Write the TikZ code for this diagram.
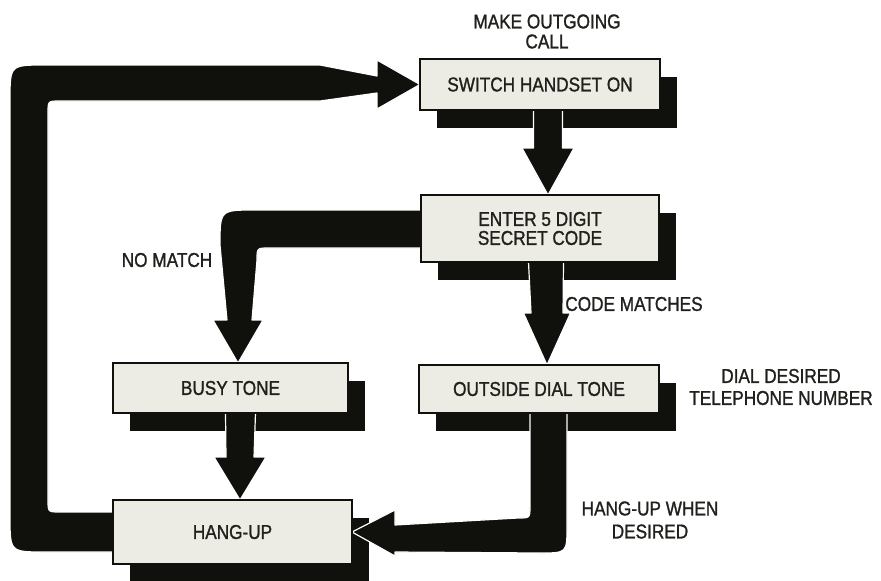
\documentclass[tikz,border=0pt]{standalone}
\usepackage{fontspec}
\setmainfont{Liberation Sans}[FakeStretch=0.86,FakeBold=1.2]
\usetikzlibrary{calc}
\pgfdeclarelayer{shadowlayer}
\pgfdeclarelayer{arrowlayer}
\pgfsetlayers{shadowlayer,arrowlayer,main}
\definecolor{boxfill}{RGB}{236,236,228}
\definecolor{ink}{RGB}{16,16,12}
\definecolor{txt}{RGB}{32,32,28}
\newcommand\fbxfont{\fontsize{20}{19}\selectfont}
\newcommand\flblfont{\fontsize{20}{22}\selectfont}
\newcommand\flowarrow[6]{%
  \fill[arr] ($(#1)+(-#3,0)$) -- ($(#2)+(-#4,-#6)$) -- ($(#2)+(-#5,-#6)$) -- (#2)
    -- ($(#2)+(#5,-#6)$) -- ($(#2)+(#4,-#6)$) -- ($(#1)+(#3,0)$) -- cycle;}
\begin{document}
\begin{tikzpicture}[x=1pt,y=-1pt,
  flowbox/.style={draw=ink, line width=1.3pt, fill=boxfill, inner sep=0pt, outer sep=0pt,
    align=center, text=txt, font=\fbxfont},
  lbl/.style={inner sep=0pt, align=center, text=txt, font=\flblfont},
  arr/.style={fill=ink, draw=white, line width=1.2pt, line join=round},
  shadowbox/.style={fill=ink}]
\useasboundingbox (0,0) rectangle (881,581);

% boxes
\node[flowbox, minimum width=240pt, minimum height=51pt] (sw) at (540,84.5) {SWITCH HANDSET ON};
\node[flowbox, minimum width=238pt, minimum height=67pt] (en) at (540,228.5) {ENTER 5 DIGIT\\SECRET CODE};
\node[flowbox, minimum width=240pt, minimum height=48pt] (od) at (539,389) {OUTSIDE DIAL TONE};
\node[flowbox, minimum width=235pt, minimum height=50pt] (bt) at (230.5,388) {BUSY TONE};
\node[flowbox, minimum width=239pt, minimum height=64pt] (hu) at (232.5,532) {HANG-UP};

% labels
\node[lbl, font={\fontsize{20}{20}\selectfont}] (mk) at (547,31.5) {MAKE OUTGOING\\CALL};
\node[lbl] (nm) at (167,260) {NO MATCH};
\node[lbl] (cm) at (634,304) {CODE MATCHES};
\node[lbl] (dd) at (781,387) {DIAL DESIRED\\TELEPHONE NUMBER};
\node[lbl, font={\fontsize{20}{23}\selectfont}] (hw) at (650,520) {HANG-UP WHEN\\DESIRED};

% shadows
\begin{pgfonlayer}{shadowlayer}
\foreach \n in {sw,en,od,bt,hu}
  \fill[shadowbox] ($(\n.north west)+(17,18)$) rectangle ($(\n.south east)+(17,18)$);
\end{pgfonlayer}

% connectors
\begin{pgfonlayer}{arrowlayer}
\coordinate (a1s) at ($(sw.south)+(8,0)$);
\coordinate (a1t) at ($(en.north)+(8,0)$);
\flowarrow{a1s}{a1t}{14.5}{14.5}{26}{47}
\coordinate (a2s) at ($(en.south)+(6,0)$);
\coordinate (a2t) at ($(od.north)+(8,0)$);
\flowarrow{a2s}{a2t}{17.5}{16}{23.5}{52}
\coordinate (a3s) at ($(bt.south)+(10,0)$);
\coordinate (a3t) at ($(hu.north)+(7.5,0)$);
\flowarrow{a3s}{a3t}{15}{14}{26}{43}
% no match
\coordinate (nmt) at ($(bt.north)+(7.5,0)$);
\fill[arr] ($(en.west)+(0,-18.5)$) -- (255,210) .. controls (220,210) .. (220,245)
  -- (227,320) -- (213,320) -- (nmt) -- (263,320) -- (252,320)
  -- (257,260) .. controls (257,248) .. (269,248) -- ($(en.west)+(0,19.5)$) -- cycle;
% big loop back to start
\fill[arr] ($(hu.west)+(0,-20)$) -- (60,512) .. controls (48,512) .. (48,500)
  -- (48,113) .. controls (48,101) .. (60,101) -- (320,101) -- (377,93) -- (377,109)
  -- (sw.west) -- (377,60) -- (377,76) -- (320,65) -- (45,65) .. controls (10,65) .. (10,100)
  -- (10,517) .. controls (10,552) .. (45,552) -- ($(hu.west)+(0,20)$) -- cycle;
% hang-up when desired
\fill[arr] ($(od.south)+(-9,0)$) -- (530,506) .. controls (530,518) .. (518,518)
  -- (395,525) -- (395,510) -- (hu.east) -- (395,556) -- (395,552)
  -- (540,553) .. controls (567,553) .. (567,526) -- ($(od.south)+(28,0)$) -- cycle;
\end{pgfonlayer}
\end{tikzpicture}
\end{document}
